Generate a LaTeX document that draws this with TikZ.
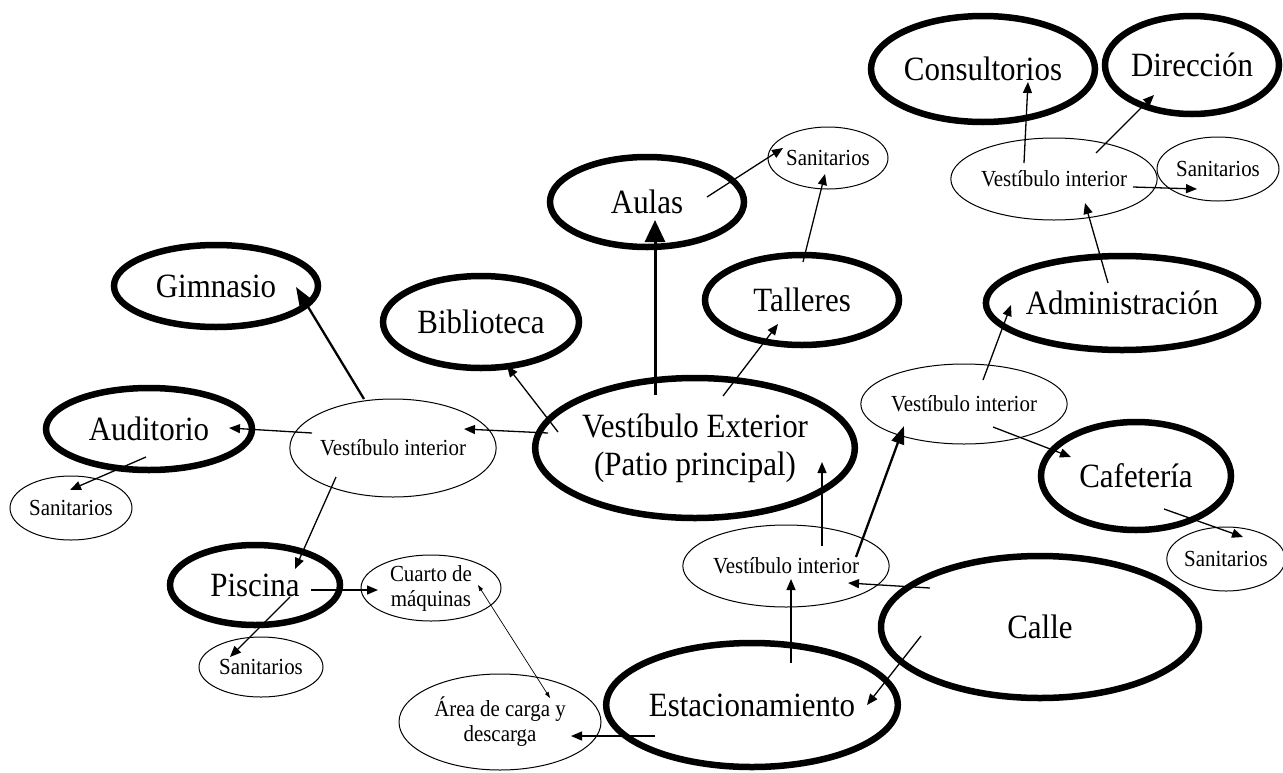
\documentclass[tikz,border=0pt]{standalone}
\usepackage{fontspec}
\setmainfont[FakeStretch=0.91]{Liberation Serif}
\usetikzlibrary{shapes.geometric,arrows.meta}
\begin{document}
\begin{tikzpicture}[x=1pt,y=-1pt,
  big/.style={ellipse, draw, line width=6.5pt, inner sep=0pt, align=center,
    font=\fontsize{34}{38}\selectfont},
  small/.style={ellipse, draw, line width=1pt, inner sep=0pt, align=center,
    font=\fontsize{23}{25}\selectfont},
  sz/.style 2 args={minimum width=#1pt, minimum height=#2pt},
  con/.style={line width=1.3pt, -{Triangle[length=11pt,width=9pt]}},
  conmid/.style={line width=2.3pt, -{Triangle[length=18pt,width=13pt]}},
  conbig/.style={line width=3pt, -{Triangle[length=22pt,width=20pt]}},
  conthin/.style={line width=0.7pt, {Triangle[length=6pt,width=4pt]}-{Triangle[length=6pt,width=4pt]}}
]
\useasboundingbox (0,0) rectangle (1283,772);

% main nodes
\node[big, sz={318}{140}] (ext) at (695,448) {Vestíbulo Exterior\\(Patio principal)};
\node[big, sz={194}{90}] (aulas) at (647,202) {Aulas};
\node[big, sz={196}{92}] (biblio) at (481,322) {Biblioteca};
\node[big, sz={204}{82}] (gim) at (216,286) {Gimnasio};
\node[big, sz={206}{82}] (aud) at (149,429) {Auditorio};
\node[big, sz={170}{80}] (pisc) at (255,585) {Piscina};
\node[big, sz={264}{124}] (est) at (752,705) {Estacionamiento};
\node[big, sz={318}{142}] (calle) at (1040,627) {Calle};
\node[big, sz={190}{108}] (cafe) at (1136,476) {Cafetería};
\node[big, sz={268}{94}] (admin) at (1122,303) {Administración};
\node[big, sz={224}{106}] (cons) at (983,69) {Consultorios};
\node[big, sz={174}{98}] (dir) at (1192,65) {Dirección};
\node[big, sz={194}{90}] (talleres) at (802,300) {Talleres};

% small nodes
\node[small, sz={202}{98}] (vil) at (393,448) {Vestíbulo interior};
\node[small, sz={122}{64}] (sanl) at (71,508) {Sanitarios};
\node[small, sz={140}{66}] (cuarto) at (431,588) {Cuarto de\\máquinas};
\node[small, sz={124}{60}] (sanbl) at (261,667) {Sanitarios};
\node[small, sz={202}{96}] (area) at (500,722) {Área de carga y\\descarga};
\node[small, sz={178}{82}] (vib) at (786,566) {Vestíbulo interior};
\node[small, sz={178}{80}] (vim) at (964,404) {Vestíbulo interior};
\node[small, sz={112}{64}] (sanr) at (1226,559) {Sanitarios};
\node[small, sz={178}{82}] (vitr) at (1054,179) {Vestíbulo interior};
\node[small, sz={122}{64}] (santr) at (1218,169) {Sanitarios};
\node[small, sz={120}{62}] (sant) at (828,158) {Sanitarios};

% connectors
\draw[conbig] ([shift={(-40,-53)}]ext.center) -- ([shift={(8,18)}]aulas.center);
\draw[con] ([shift={(60,-5)}]aulas.center) -- ([shift={(-45,-10)}]sant.center);
\draw[con] ([shift={(1,-38)}]talleres.center) -- ([shift={(-3,16)}]sant.center);
\draw[con] ([shift={(28,-52)}]ext.center) -- ([shift={(-24,24)}]talleres.center);
\draw[con] ([shift={(-137,-16)}]ext.center) -- ([shift={(26,44)}]biblio.center);
\draw[con] ([shift={(-147,-15)}]ext.center) -- ([shift={(71,-19)}]vil.center);
\draw[conmid] ([shift={(-29,-49)}]vil.center) -- ([shift={(80,1)}]gim.center);
\draw[con] ([shift={(-81,-15)}]vil.center) -- ([shift={(80,-1)}]aud.center);
\draw[con] ([shift={(-3,28)}]aud.center) -- ([shift={(-1,-18)}]sanl.center);
\draw[con] ([shift={(-57,29)}]vil.center) -- ([shift={(40,-16)}]pisc.center);
\draw[con] ([shift={(56,5)}]pisc.center) -- ([shift={(-53,2)}]cuarto.center);
\draw[con] ([shift={(35,12)}]pisc.center) -- ([shift={(-31,-10)}]sanbl.center);
\draw[conthin] ([shift={(47,-3)}]cuarto.center) -- ([shift={(50,-24)}]area.center);
\draw[con] ([shift={(-97,31)}]est.center) -- ([shift={(71,14)}]area.center);
\draw[con] ([shift={(-119,9)}]calle.center) -- ([shift={(115,0)}]est.center);
\draw[con] ([shift={(-110,-39)}]calle.center) -- ([shift={(62,17)}]vib.center);
\draw[con] ([shift={(39,-42)}]est.center) -- ([shift={(5,13)}]vib.center);
\draw[con] ([shift={(36,-20)}]vib.center) -- ([shift={(127,14)}]ext.center);
\draw[conmid] ([shift={(70,-9)}]vib.center) -- ([shift={(-60,22)}]vim.center);
\draw[con] ([shift={(29,23)}]vim.center) -- ([shift={(-65,-19)}]cafe.center);
\draw[con] ([shift={(28,33)}]cafe.center) -- ([shift={(17,-22)}]sanr.center);
\draw[con] ([shift={(19,-24)}]vim.center) -- ([shift={(-111,2)}]admin.center);
\draw[con] ([shift={(-14,-20)}]admin.center) -- ([shift={(31,24)}]vitr.center);
\draw[con] ([shift={(-30,-16)}]vitr.center) -- ([shift={(45,13)}]cons.center);
\draw[con] ([shift={(42,-26)}]vitr.center) -- ([shift={(-38,30)}]dir.center);
\draw[con] ([shift={(79,8)}]vitr.center) -- ([shift={(-21,20)}]santr.center);
\end{tikzpicture}
\end{document}
